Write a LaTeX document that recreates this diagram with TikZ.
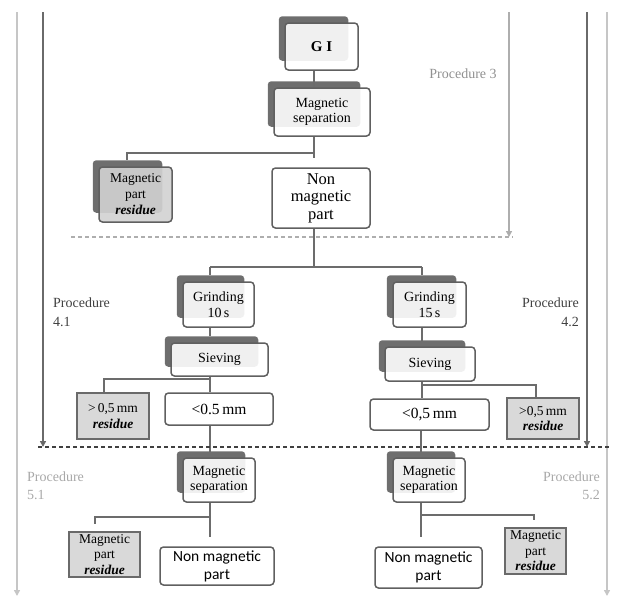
\documentclass[tikz,border=0pt]{standalone}
\usepackage{fontspec}
\setmainfont{Liberation Serif}
\newfontfamily\sansc{Carlito}
\usetikzlibrary{arrows.meta,backgrounds,calc}
\definecolor{boxc}{HTML}{606060}
\definecolor{shadowc}{HTML}{6E6E6E}
\definecolor{linec}{HTML}{6C6C6C}
\definecolor{resfill}{HTML}{D9D9D9}
\definecolor{stackres}{HTML}{D2D2D2}
\definecolor{lightln}{HTML}{C6C6C6}
\definecolor{midln}{HTML}{AEAEAE}
\definecolor{darkln}{HTML}{6A6A6A}
\definecolor{ptextA}{HTML}{909090}
\definecolor{ptextB}{HTML}{404040}
\definecolor{ptextC}{HTML}{A8A8A8}
\begin{document}
\begin{tikzpicture}[x=1pt,y=-1pt,
  box/.style={draw=boxc, line width=1.5pt, rounded corners=3.5pt, fill=white,
    fill opacity=0.9, text opacity=1, inner sep=0pt, align=center,
    font=\fontsize{14}{15.5}\selectfont},
  stackres/.style={box, fill=stackres, font=\fontsize{13.5}{16}\selectfont},
  resbox/.style={draw=darkln, line width=1.8pt, fill=resfill, inner sep=0pt,
    align=center, font=\fontsize{13.5}{15.5}\selectfont},
  conn/.style={draw=linec, line width=1.6pt},
  proc/.style={inner sep=0pt, font=\fontsize{14}{19}\selectfont},
  shade/.style={fill=shadowc, rounded corners=3.5pt},
  sidelight/.style={draw=lightln, line width=1.6pt, -{Triangle[length=6pt,width=6pt]}},
  sidemid/.style={draw=midln, line width=1.6pt, -{Triangle[length=6pt,width=6pt,fill=ptextA]}},
  sidedark/.style={draw=darkln, line width=1.6pt, -{Triangle[length=6pt,width=6pt,fill=ptextB]}},
  ]
\useasboundingbox (0,0) rectangle (618,598);

% stacked process boxes
\node[box, minimum width=73pt, minimum height=47pt] (gi) at (321.5,46.5) {\fontsize{15}{16}\selectfont\textbf{G I}};
\node[box, minimum width=96pt, minimum height=48pt] (ms1) at (322,112) {Magnetic\\separation};
\node[stackres, minimum width=73pt, minimum height=55pt] (mp1) at (135.5,194.5) {Magnetic\\part\\\textbf{\textit{residue}}};
\node[box, minimum width=98pt, minimum height=60pt, font=\fontsize{16.5}{17.5}\selectfont] (nm1) at (321,198) {Non\\magnetic\\part};
\node[box, minimum width=71pt, minimum height=45pt] (gr1) at (218.5,304.5) {Grinding\\10\,s};
\node[box, minimum width=73pt, minimum height=45pt] (gr2) at (429.5,304.5) {Grinding\\15\,s};
\node[box, minimum width=97pt, minimum height=33pt] (sv1) at (219.5,359.5) {Sieving};
\node[box, minimum width=90pt, minimum height=34pt] (sv2) at (430,364) {Sieving};
\node[resbox, minimum width=72pt, minimum height=46pt] (rs1) at (113,416) {>\,0,5\,mm\\\textbf{\textit{residue}}};
\node[box, minimum width=108pt, minimum height=32pt, font=\fontsize{15.5}{17}\selectfont] (lt1) at (219,409) {<0.5\,mm};
\node[box, minimum width=119pt, minimum height=31pt, font=\fontsize{15.5}{17}\selectfont] (lt2) at (429.5,414.5) {<0,5\,mm};
\node[resbox, minimum width=72pt, minimum height=41pt] (rs2) at (543,418.5) {>0,5\,mm\\\textbf{\textit{residue}}};
\node[box, minimum width=72pt, minimum height=44pt] (ms2) at (219,480) {Magnetic\\separation};
\node[box, minimum width=72pt, minimum height=44pt] (ms3) at (429,480) {Magnetic\\separation};
\node[resbox, minimum width=71pt, minimum height=45pt] (mp2) at (104.5,554.5) {Magnetic\\part\\\textbf{\textit{residue}}};
\node[box, minimum width=114pt, minimum height=38pt, font=\sansc\fontsize{15.5}{18}\selectfont] (nm2) at (217,566) {Non magnetic\\part};
\node[box, minimum width=107pt, minimum height=41pt, font=\sansc\fontsize{15.5}{18}\selectfont] (nm3) at (428.5,567.5) {Non magnetic\\part};
\node[resbox, minimum width=61pt, minimum height=46pt] (mp3) at (535.5,551) {Magnetic\\part\\\textbf{\textit{residue}}};

% shadows behind stacked boxes
\begin{scope}[on background layer]
\foreach \n in {gi,ms1,mp1,gr1,gr2,sv1,sv2,ms2,ms3}
  \fill[shade] ($(\n.north west)+(-5.5,-6)$) rectangle ($(\n.south east)+(-10.5,-10)$);
\end{scope}

% junction points
\coordinate (j1) at (314,153);  \coordinate (j1l) at (127,153);
\coordinate (j2) at (314,267);  \coordinate (j2l) at (210,267); \coordinate (j2r) at (422,267);
\coordinate (j3) at (210,379);  \coordinate (j3l) at (104,379);
\coordinate (j4) at (422,385);  \coordinate (j4r) at (536,385);
\coordinate (j5) at (210,517);  \coordinate (j5l) at (95,517);
\coordinate (j6) at (421,515);  \coordinate (j6r) at (534,515);

% connectors
\draw[conn] (gi.south -| j1) -- (ms1.north -| j1);
\draw[conn] (ms1.south -| j1) -- (j1) -- (j1l) -- ($(mp1.north -| j1l)+(0,-6)$);
\draw[conn, shorten >=9pt] (j1) -- (nm1.north -| j1);
\draw[conn] (nm1.south -| j2) -- (j2);
\draw[conn] (j2l) -- (j2r);
\draw[conn, shorten >=6pt] (j2l) -- (gr1.north -| j2l);
\draw[conn, shorten >=6pt] (j2r) -- (gr2.north -| j2r);
\draw[conn, shorten >=6pt] (gr1.south -| j3) -- (sv1.north -| j3);
\draw[conn, shorten >=5pt] (gr2.south -| j4) -- (sv2.north -| j4);
\draw[conn] (sv1.south -| j3) -- (j3) -- (j3l) -- (rs1.north -| j3l);
\draw[conn] (j3) -- (lt1.north -| j3);
\draw[conn] (sv2.south -| j4) -- (j4) -- (j4r) -- (rs2.north -| j4r);
\draw[conn] (j4) -- (lt2.north -| j4);
\draw[conn, shorten >=5pt] (lt1.south -| j5) -- (ms2.north -| j5);
\draw[conn, shorten >=5pt] (lt2.south -| j6) -- (ms3.north -| j6);
\draw[conn] (ms2.south -| j5) -- (j5) -- (j5l) -- ($(mp2.north -| j5l)+(0,-7)$);
\draw[conn, shorten >=9pt] (j5) -- (nm2.north -| j5);
\draw[conn] (ms3.south -| j6) -- (j6) -- (j6r) -- ($(mp3.north -| j6r)+(0,-7)$);
\draw[conn, shorten >=9pt] (j6) -- (nm3.north -| j6);

% side arrows
\coordinate (a1s) at (17,12);  \coordinate (a1e) at (17,596);
\coordinate (a2s) at (43,12);  \coordinate (a2e) at (43,447);
\coordinate (a3s) at (509,12); \coordinate (a3e) at (509,237);
\coordinate (a4s) at (587,12); \coordinate (a4e) at (587,447);
\coordinate (a5s) at (607,12); \coordinate (a5e) at (607,596);
\draw[sidelight] (a1s) -- (a1e);
\draw[sidedark] (a2s) -- (a2e);
\draw[sidemid] (a3s) -- (a3e);
\draw[sidedark] (a4s) -- (a4e);
\draw[sidelight] (a5s) -- (a5e);

% dashed separators
\coordinate (d1a) at (71,237);  \coordinate (d1b) at (513,237);
\coordinate (d2a) at (38,447);  \coordinate (d2b) at (611,447);
\draw[midln, line width=1.1pt, dash pattern=on 4pt off 3pt] (d1a) -- (d1b);
\draw[ptextB, line width=1.2pt, dash pattern=on 4pt off 3pt] (d2a) -- (d2b);

% procedure labels
\node[proc, text=ptextA] (p3) at (463,74) {Procedure 3};
\node[proc, text=ptextB, anchor=west, align=left] (p41) at (53,312.5) {Procedure\\4.1};
\node[proc, text=ptextB, anchor=east, align=right] (p42) at (579,312.5) {Procedure\\4.2};
\node[proc, text=ptextC, anchor=west, align=left, font=\fontsize{14}{18}\selectfont] (p51) at (27,486) {Procedure\\5.1};
\node[proc, text=ptextC, anchor=east, align=right, font=\fontsize{14}{18}\selectfont] (p52) at (600,486) {Procedure\\5.2};
\end{tikzpicture}
\end{document}
